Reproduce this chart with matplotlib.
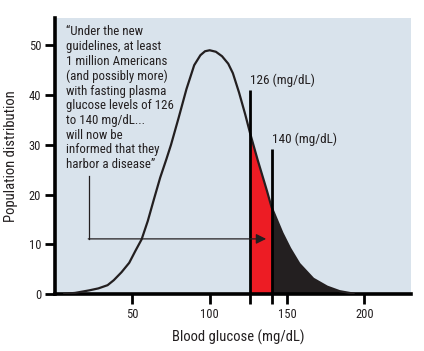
import matplotlib
matplotlib.use("Agg")
import matplotlib.pyplot as plt
from matplotlib import font_manager

# curve (blood glucose mg/dL -> population)
glucose = [6, 13, 22, 28, 34, 38, 43, 48, 52, 56, 60, 64, 68, 72, 75, 80, 85,
           90, 94, 97, 100, 104, 108, 112, 115, 119, 123, 126, 131, 137, 140,
           147, 152, 158, 167, 176, 184, 193]
population = [0.05, 0.25, 0.75, 1.15, 1.8, 2.8, 4.4, 6.3, 8.7, 11.0, 14.7,
              19.1, 23.4, 27.1, 30.0, 35.5, 41.2, 46.0, 48.0, 48.8, 49.0,
              48.7, 47.8, 46.3, 44.4, 40.5, 36.1, 32.5, 27.0, 20.8, 17.5,
              12.3, 9.2, 6.1, 3.1, 1.5, 0.6, 0.1]

xticks = [50, 100, 150, 200]
yticks = [0, 10, 20, 30, 40, 50]
cutoffs = [126, 140]
cutoff_tops = [41.1, 29.2]
cutoff_labels = ["126 (mg/dL)", "140 (mg/dL)"]

quote = ("\u201cUnder the new\nguidelines, at least\n1 million Americans\n"
         "(and possibly more)\nwith fasting plasma\nglucose levels of 126\n"
         "to 140 mg/dL...\nwill now be\ninformed that they\nharbor a disease\u201d")


# the original uses a condensed sans; take one if the system has it
def narrow_font():
    prefs = ['Liberation Sans Narrow', 'Roboto Condensed', 'DejaVu Sans Condensed',
             'Noto Sans Condensed', 'Open Sans Condensed']
    found = []
    for f in font_manager.fontManager.ttflist:
        if f.style != 'normal' or f.weight not in (400, 'normal', 'regular'):
            continue
        if 'Mono' in f.name or 'Serif' in f.name:
            continue
        if ('Narrow' in f.name or 'Condensed' in f.name
                or f.stretch in ('condensed', 'semi-condensed')):
            rank = prefs.index(f.name) if f.name in prefs else len(prefs)
            found.append((rank, f.fname))
    if found:
        return sorted(found)[0][1]
    return None


path = narrow_font()


def fp(size):
    if path:
        return font_manager.FontProperties(fname=path, size=size)
    return font_manager.FontProperties(family='Liberation Sans', size=size * 0.9)


dark = '#231f20'
red = '#ed1c24'
bg = '#d9e3ec'

fig = plt.figure(figsize=(4.24, 3.51), dpi=100)
ax = fig.add_axes([0.1297, 0.162, 0.839, 0.787])
ax.set_facecolor(bg)

ax.plot(glucose, population, color=dark, lw=1.6, zorder=3)

# red = 126..140, black = above 140
red_x = [g for g in glucose if 126 <= g <= 140]
red_y = [p for g, p in zip(glucose, population) if 126 <= g <= 140]
blk_x = [g for g in glucose if g >= 140]
blk_y = [p for g, p in zip(glucose, population) if g >= 140]
ax.fill_between(red_x, 0, red_y, color=red, lw=0, zorder=2)
ax.fill_between(blk_x, 0, blk_y, color=dark, lw=0, zorder=2)

for c, top, lab in zip(cutoffs, cutoff_tops, cutoff_labels):
    ax.plot([c, c], [0, top], color='black', lw=2, zorder=4, solid_capstyle='butt')
    ax.text(c, top + 0.6, lab, fontproperties=fp(9.5), color=dark,
            ha='left', va='bottom')

ax.text(7, 54.0, quote, fontproperties=fp(9.3), color=dark, ha='left', va='top',
        linespacing=1.17)

# arrow from the quote to the red area
ax.plot([21.8, 21.8], [23.8, 11.1], color=dark, lw=0.9, zorder=4)
ax.annotate("", xy=(136.5, 11.1), xytext=(21.5, 11.1),
            arrowprops=dict(arrowstyle='-|>,head_length=0.6,head_width=0.3',
                            color=dark, lw=0.9, shrinkA=0, shrinkB=0), zorder=5)

ax.set_xlim(0, 230)
ax.set_ylim(0, 55.5)
ax.set_xticks(xticks)
ax.set_yticks(yticks)
ax.set_xticks(cutoffs, minor=True)
ax.tick_params(axis='both', which='both', length=7, width=2, color='black',
               labelcolor=dark, pad=3)
for lab in ax.get_xticklabels() + ax.get_yticklabels():
    lab.set_fontproperties(fp(9))

for s in ['top', 'right']:
    ax.spines[s].set_visible(False)
for s in ['left', 'bottom']:
    ax.spines[s].set_linewidth(2.6)
    ax.spines[s].set_color('black')

ax.set_xlabel("Blood glucose (mg/dL)", fontproperties=fp(10.5), color=dark)
ax.set_ylabel("Population distribution", fontproperties=fp(10.5), color=dark)
ax.xaxis.set_label_coords(0.515, -0.13)
ax.yaxis.set_label_coords(-0.103, 0.5)

fig.savefig("out.png", dpi=100, facecolor='white')
